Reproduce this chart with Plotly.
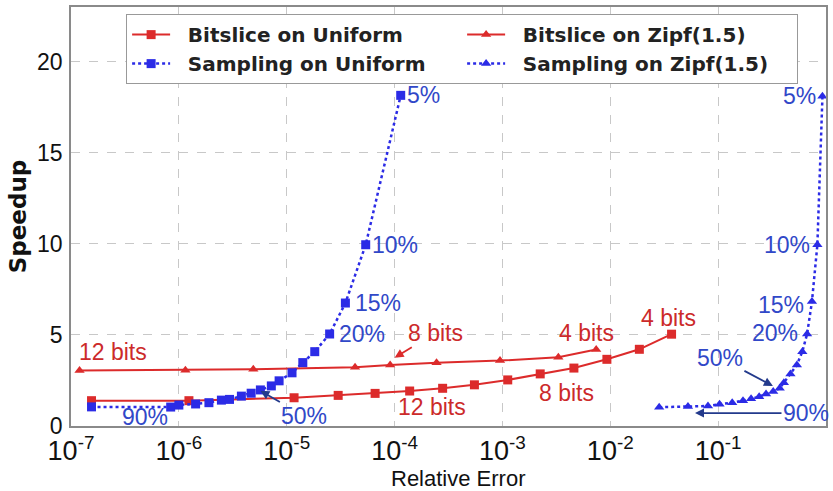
import math
import plotly.graph_objects as go

# Relative error / speedup pairs for each method and data distribution
bitslice_uniform_err = [1.55e-7, 1.24e-6, 1.17e-5, 3.0e-5, 6.6e-5, 1.38e-4, 2.79e-4,
                        5.5e-4, 1.12e-3, 2.24e-3, 4.6e-3, 9.3e-3, 1.86e-2, 3.7e-2]
bitslice_uniform_speedup = [1.39, 1.39, 1.55, 1.68, 1.79, 1.92, 2.07,
                            2.26, 2.53, 2.86, 3.18, 3.66, 4.21, 5.04]

bitslice_zipf_err = [1.2e-7, 1.15e-6, 4.9e-6, 4.3e-5, 9.1e-5, 2.45e-4, 9.5e-4, 3.3e-3, 7.4e-3]
bitslice_zipf_speedup = [3.04, 3.06, 3.11, 3.22, 3.35, 3.47, 3.59, 3.78, 4.2]

sampling_uniform_err = [1.55e-7, 8.4e-7, 1.0e-6, 1.43e-6, 1.9e-6, 2.48e-6, 2.95e-6, 3.8e-6,
                        4.68e-6, 5.7e-6, 7.2e-6, 8.5e-6, 1.12e-5, 1.41e-5, 1.82e-5,
                        2.5e-5, 3.5e-5, 5.4e-5, 1.14e-4]
sampling_uniform_speedup = [1.05, 1.04, 1.15, 1.21, 1.28, 1.42, 1.46, 1.64,
                            1.8, 1.98, 2.2, 2.48, 2.92, 3.48, 4.08,
                            5.05, 6.75, 9.95, 18.15]

sampling_zipf_err = [2.84e-2, 5.25e-2, 8.05e-2, 0.103, 0.135, 0.17, 0.202, 0.24, 0.278,
                     0.324, 0.372, 0.407, 0.468, 0.537, 0.603, 0.668, 0.741, 0.832, 0.927]
sampling_zipf_speedup = [1.03, 1.07, 1.1, 1.2, 1.28, 1.39, 1.5, 1.61, 1.76,
                         1.89, 2.07, 2.38, 2.86, 3.35, 4.08, 5.05, 6.83, 9.95, 18.1]

x_tick_exponents = [-7, -6, -5, -4, -3, -2, -1, 0]
y_ticks = [0, 5, 10, 15, 20]

RED = "#dc2b2b"
BLUE = "#2b2be6"
RED_TXT = "#cc2a2a"
BLUE_TXT = "#3148c8"
NAVY = "#233a8c"

LABEL_FONT = "Liberation Sans, Arial, sans-serif"
BOLD_FONT = "DejaVu Sans, sans-serif"
PAD = "\u00a0\u00a0"

fig = go.Figure()

fig.add_trace(go.Scatter(
    x=bitslice_uniform_err, y=bitslice_uniform_speedup, mode="lines+markers",
    name=PAD + "<b>Bitslice on Uniform</b>",
    line=dict(color=RED, width=2), marker=dict(symbol="square", size=9, color=RED)))
fig.add_trace(go.Scatter(
    x=bitslice_zipf_err, y=bitslice_zipf_speedup, mode="lines+markers",
    name=PAD + "<b>Bitslice on Zipf(1.5)</b>",
    line=dict(color=RED, width=2), marker=dict(symbol="triangle-up", size=9, color=RED)))
fig.add_trace(go.Scatter(
    x=sampling_uniform_err, y=sampling_uniform_speedup, mode="lines+markers",
    name=PAD + "<b>Sampling on Uniform</b>",
    line=dict(color=BLUE, width=2.5, dash="dot"),
    marker=dict(symbol="square", size=9, color=BLUE)))
fig.add_trace(go.Scatter(
    x=sampling_zipf_err, y=sampling_zipf_speedup, mode="lines+markers",
    name=PAD + "<b>Sampling on Zipf(1.5)</b>",
    line=dict(color=BLUE, width=2.5, dash="dot"),
    marker=dict(symbol="triangle-up", size=9, color=BLUE)))

annotations = []


def label(text, err, speed, color, xanchor="center", xshift=0, yshift=0):
    annotations.append(dict(
        x=math.log10(err), y=speed, xref="x", yref="y", text=text, showarrow=False,
        xanchor=xanchor, yanchor="middle", xshift=xshift, yshift=yshift,
        font=dict(family=LABEL_FONT, size=23, color=color)))


def arrow_label(text, err, speed, ax, ay, color, arrow_color):
    annotations.append(dict(
        x=math.log10(err), y=speed, xref="x", yref="y", text=text, showarrow=True,
        ax=ax, ay=ay, arrowhead=2, arrowsize=1, arrowwidth=1.8, arrowcolor=arrow_color,
        standoff=0, font=dict(family=LABEL_FONT, size=23, color=color)))


# Sampling rate labels on the uniform curve
su = list(zip(sampling_uniform_err, sampling_uniform_speedup))
label("5%", *su[18], BLUE_TXT, xanchor="left", xshift=4)
label("10%", *su[17], BLUE_TXT, xanchor="left", xshift=4)
label("15%", *su[16], BLUE_TXT, xanchor="left", xshift=8)
label("20%", *su[15], BLUE_TXT, xanchor="left", xshift=7)
label("90%", 4.9e-7, 0.5, BLUE_TXT)
arrow_label("50%", su[9][0], su[9][1] - 0.05, 44, 25, BLUE_TXT, NAVY)

# Sampling rate labels on the Zipf curve
sz = list(zip(sampling_zipf_err, sampling_zipf_speedup))
label("5%", *sz[18], BLUE_TXT, xanchor="right", xshift=-4)
label("10%", *sz[17], BLUE_TXT, xanchor="right", xshift=-5)
label("15%", sz[16][0], sz[16][1] - 0.2, BLUE_TXT, xanchor="right", xshift=-6)
label("20%", sz[15][0], sz[15][1] + 0.05, BLUE_TXT, xanchor="right", xshift=-7)
arrow_label("50%", 0.322, 2.2, -53, -28, BLUE_TXT, NAVY)
arrow_label("90%", 0.061, 0.71, 111, 0, BLUE_TXT, NAVY)

# Bit-width labels on the bitslice curves
label("12 bits", 2.47e-7, 4.07, RED_TXT)
arrow_label("8 bits", 1.0e-4, 3.75, 41, -25, RED_TXT, RED)
label("4 bits", 6.0e-3, 5.11, RED_TXT)
label("12 bits", 2.21e-4, 1.04, RED_TXT)
label("8 bits", 3.9e-3, 1.81, RED_TXT)
label("4 bits", 3.5e-2, 5.93, RED_TXT)

# x-axis title sits just under the tick labels
annotations.append(dict(
    x=0.513, y=-0.125, xref="paper", yref="paper", text="Relative Error",
    showarrow=False, xanchor="center", yanchor="middle",
    font=dict(family=LABEL_FONT, size=22, color="#111111")))

fig.update_layout(
    width=833, height=491,
    margin=dict(l=71, r=5, t=7, b=65),
    paper_bgcolor="white", plot_bgcolor="white",
    annotations=annotations,
    legend=dict(
        orientation="h", x=0.073, y=0.983, xanchor="left", yanchor="top",
        entrywidth=282, bgcolor="white", bordercolor="#999999", borderwidth=1,
        font=dict(family=BOLD_FONT, size=20, color="#222222"),
        itemwidth=38, tracegroupgap=0),
    xaxis=dict(
        type="log", range=[-7, 0],
        tickvals=[10 ** e for e in x_tick_exponents],
        ticktext=[f"10<sup>{e}</sup>" for e in x_tick_exponents],
        tickfont=dict(family=LABEL_FONT, size=27, color="#111111"),
        ticklabelstandoff=0,
        showgrid=True, gridcolor="#c8c8c8", griddash="dash", gridwidth=1,
        showline=True, linecolor="#8a8a8a", linewidth=1.5, mirror=True,
        ticks="", zeroline=False),
    yaxis=dict(
        range=[0, 23], tickvals=y_ticks,
        tickfont=dict(family=LABEL_FONT, size=23, color="#111111"),
        ticklabelstandoff=2,
        showgrid=True, gridcolor="#c8c8c8", griddash="dash", gridwidth=1,
        showline=True, linecolor="#8a8a8a", linewidth=1.5, mirror=True,
        ticks="", zeroline=False,
        title=dict(text="<b>Speedup</b>", standoff=4,
                   font=dict(family=BOLD_FONT, size=23, color="#111111"))),
)

fig.write_html("out.html")
